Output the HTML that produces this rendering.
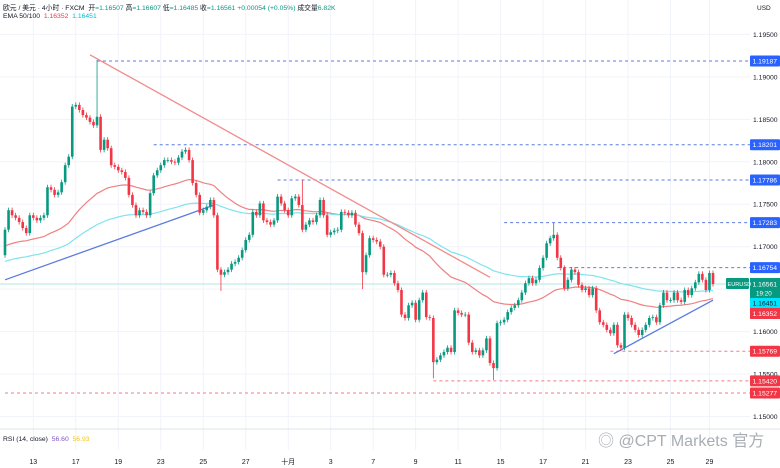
<!DOCTYPE html>
<html><head><meta charset="utf-8">
<style>
html,body{margin:0;padding:0;background:#fff;}
body{width:780px;height:468px;overflow:hidden;position:relative;font-family:"Liberation Sans","Noto Sans CJK SC",sans-serif;}
svg{position:absolute;left:0;top:0;}
</style></head>
<body>
<svg id="chart" width="780" height="468"></svg>
<script>
// ---- data ----
const closes = [
11720,11743,11737,11734,11729,11722,11716,11737,11734,11731,
11734,11737,11770,11767,11761,11764,11776,11796,11806,11865,
11867,11861,11855,11852,11847,11843,11853,11814,11826,11816,
11796,11794,11790,11788,11781,11761,11749,11737,11743,11741,
11737,11763,11784,11790,11796,11802,11802,11800,11799,11805,
11812,11814,11802,11775,11761,11740,11743,11747,11755,11737,
11673,11667,11670,11673,11680,11682,11687,11696,11708,11714,
11741,11737,11751,11731,11729,11726,11731,11759,11751,11743,
11737,11757,11759,11749,11720,11726,11731,11729,11737,11755,
11737,11714,11717,11719,11720,11741,11740,11737,11740,11726,
11716,11670,11690,11710,11708,11706,11700,11667,11667,11669,
11657,11649,11620,11616,11631,11634,11614,11637,11646,11617,
11616,11564,11567,11572,11576,11581,11576,11625,11622,11620,
11620,11587,11576,11578,11572,11578,11592,11563,11557,11610,
11611,11614,11623,11628,11631,11637,11646,11657,11663,11657,
11661,11675,11687,11704,11710,11714,11687,11675,11651,11661,
11673,11670,11655,11649,11651,11643,11651,11625,11611,11608,
11602,11598,11608,11584,11581,11620,11616,11608,11602,11596,
11602,11608,11616,11617,11611,11631,11646,11637,11637,11646,
11637,11635,11649,11643,11651,11658,11668,11661,11649,11669,
11656];
const firstOpen = 11690;
const spikeIdx = [26, 61, 84, 101, 121, 138, 155, 174];
const spikeVal = [11920, 11648, 11778, 11650, 11545, 11543, 11728, 11577];
const emaPeriods = [50, 100];
const emaSeeds = [11700, 11682];
const priceTicks = [1.195,1.19,1.185,1.18,1.175,1.17,1.165,1.16,1.155,1.15];
const dateLabels = ["13","17","19","23","25","27","十月","3","7","9","11","15","17","21","23","25","29"];
const dateIdx = [8,20,32,44,56,68,80,92,104,116,128,140,152,164,176,188,199];
const levelPrices = [1.19187,1.18201,1.17786,1.17283,1.16754,1.15769,1.15420,1.15277];
const levelStart = [26,42,77,141,156,171,121,0];
const levelColor = ["blue","blue","blue","blue","blue","red","red","red"];
const trendStart = [[24,11926],[0,11661],[172,11574]];
const trendEnd = [[137,11664],[59,11749],[200,11637]];
const trendColor = ["#f28b8b","#5b7be0","#5b7be0"];
const lastPrice = 1.16561, ema50Last = 1.16352, ema100Last = 1.16451;

// ---- axes ----
const svg = document.getElementById('chart');
const NS = 'http://www.w3.org/2000/svg';
const x0 = 5, xStep = 3.54, plotRight = 750;
const X = i => x0 + i * xStep;
const Y = p => 61 + (1.19187 - p) * 8491;
const Yv = v => Y(v / 10000);
function el(tag, attrs, parent) {
  const e = document.createElementNS(NS, tag);
  for (const k in attrs) e.setAttribute(k, attrs[k]);
  (parent || svg).appendChild(e);
  return e;
}
const BLUE = '#2962ff', RED = '#f23645', GREEN = '#089981';
const FS = 6.8;

// grid
priceTicks.forEach(p => {
  const g = el('line', {x1:0, x2:plotRight, y1:Y(p), y2:Y(p), stroke:'#f0f3fa', 'stroke-width':1});
  
  
});
dateIdx.forEach(i => {
  const g = el('line', {x1:X(i), x2:X(i), y1:0, y2:450, stroke:'#f0f3fa', 'stroke-width':1});
  
  
});
const sep = el('line', {x1:0, x2:780, y1:429, y2:429, stroke:'#e0e3eb', 'stroke-width':1});



const cpl = el('line', {x1:0, x2:plotRight, y1:Y(lastPrice), y2:Y(lastPrice), stroke:'#b2e5e0', 'stroke-width':1});



levelPrices.forEach((p, k) => {
  const c = levelColor[k] === 'blue' ? '#5b7be0' : '#f07c8a';
  const l = el('line', {x1:X(levelStart[k]), x2:plotRight, y1:Y(p), y2:Y(p), stroke:c, 'stroke-width':1, 'stroke-dasharray':'3,3'});
  
  
});

emaPeriods.forEach((n, k) => {
  const kk = 2 / (n + 1);
  let e = emaSeeds[k];
  const pts = [];
  closes.forEach((c, i) => { e = e + kk * (c - e); pts.push(X(i).toFixed(1) + ',' + Yv(e).toFixed(1)); });
  const pl = el('polyline', {points:pts.join(' '), fill:'none', stroke: k === 0 ? '#f08080' : '#7fe3ef', 'stroke-width':1.2});
  
  
});

trendStart.forEach((s, k) => {
  const t = el('line', {x1:X(s[0]), y1:Yv(s[1]), x2:X(trendEnd[k][0]), y2:Yv(trendEnd[k][1]), stroke:trendColor[k], 'stroke-width':1.3});
  
  
});

closes.forEach((c, i) => {
  const o = i === 0 ? firstOpen : closes[i - 1];
  const up = c >= o;
  const col = up ? GREEN : RED;
  let hi = Math.max(o, c) + 3, lo = Math.min(o, c) - 3;
  const si = spikeIdx.indexOf(i);
  if (si >= 0) { if (spikeVal[si] > hi) hi = spikeVal[si]; if (spikeVal[si] < lo) lo = spikeVal[si]; }
  const w = el('line', {x1:X(i), x2:X(i), y1:Yv(hi), y2:Yv(lo), stroke:col, 'stroke-width':0.8});
  
  
  const top = Yv(Math.max(o, c)), bot = Yv(Math.min(o, c));
  const b = el('rect', {x:X(i) - 1.3, y:top, width:2.6, height:Math.max(0.8, bot - top), fill:col});
  
  
});

priceTicks.forEach(p => {
  const t = el('text', {x:753, y:Y(p) + 2.5, 'font-size':FS, fill:'#131722'});
  t.textContent = p.toFixed(5);
  
  
});
const usd = el('text', {x:757, y:10, 'font-size':6.5, fill:'#131722'});
usd.textContent = 'USD';



function tag(p, bg, txt, name, fg) {
  const r = el('rect', {x:750, y:Y(p) - 5.5, width:30, height:11, fill:bg, rx:1});
  
  
  const t = el('text', {x:752.5, y:Y(p) + 2.5, 'font-size':FS, fill:fg || '#fff'});
  t.textContent = txt;
  
  
}
levelPrices.forEach((p, k) => tag(p, levelColor[k] === 'blue' ? BLUE : RED, p.toFixed(5), 'level-tag'));
(function(){
  const yy = Y(lastPrice);
  const r = el('rect', {x:750, y:yy - 6, width:30, height:20, fill:GREEN});
  
  
  const t = el('text', {x:752.5, y:yy + 2.5, 'font-size':FS, fill:'#fff'});
  t.textContent = lastPrice.toFixed(5);
  
  
  const t2 = el('text', {x:756, y:yy + 11.5, 'font-size':6.3, fill:'#fff'});
  t2.textContent = '19:20';
  
  
  const s = el('rect', {x:726, y:yy - 6, width:23, height:11, fill:GREEN, rx:1});
  
  
  const st = el('text', {x:727.5, y:yy + 2, 'font-size':5.6, fill:'#fff'});
  st.textContent = 'EURUSD';
  
  
})();
(function(){
  const r1 = el('rect', {x:750, y:Y(lastPrice) + 14, width:30, height:10, fill:'#00e5ff'});
  
  
  const t1 = el('text', {x:752.5, y:Y(lastPrice) + 21.5, 'font-size':FS, fill:'#131722'});
  t1.textContent = ema100Last.toFixed(5);
  
  
  const r2 = el('rect', {x:750, y:Y(lastPrice) + 24, width:30, height:11, fill:RED});
  
  
  const t2 = el('text', {x:752.5, y:Y(lastPrice) + 32, 'font-size':FS, fill:'#fff'});
  t2.textContent = ema50Last.toFixed(5);
  
  
})();

dateLabels.forEach((d, k) => {
  const t = el('text', {x:X(dateIdx[k]), y:464, 'font-size':7, fill:'#131722', 'text-anchor':'middle'});
  t.textContent = d;
  
  
});
</script>
<div style="position:absolute;left:3px;top:2px;font-size:6.8px;color:#131722;white-space:nowrap;">欧元 / 美元 · 4小时 · FXCM &nbsp;开<span style="color:#089981">=1.16507</span> 高<span style="color:#089981">=1.16607</span> 低<span style="color:#089981">=1.16485</span> 收<span style="color:#089981">=1.16561 +0.00054 (+0.05%)</span> 成交量<span style="color:#089981">6.82K</span></div>
<div style="position:absolute;left:3px;top:13px;font-size:6.8px;color:#131722;">EMA 50/100 &nbsp;<span style="color:#f23645">1.16352</span> &nbsp;<span style="color:#00bcd4">1.16451</span></div>
<div style="position:absolute;left:3px;top:436px;font-size:6.8px;color:#131722;">RSI (14, close) &nbsp;<span style="color:#7e57c2">56.60</span> &nbsp;<span style="color:#f5c518">56.93</span></div>
<div style="position:absolute;left:598px;top:427px;font-size:16px;color:#a8adb3;white-space:nowrap;">◎ @CPT Markets 官方</div>
</body></html>
